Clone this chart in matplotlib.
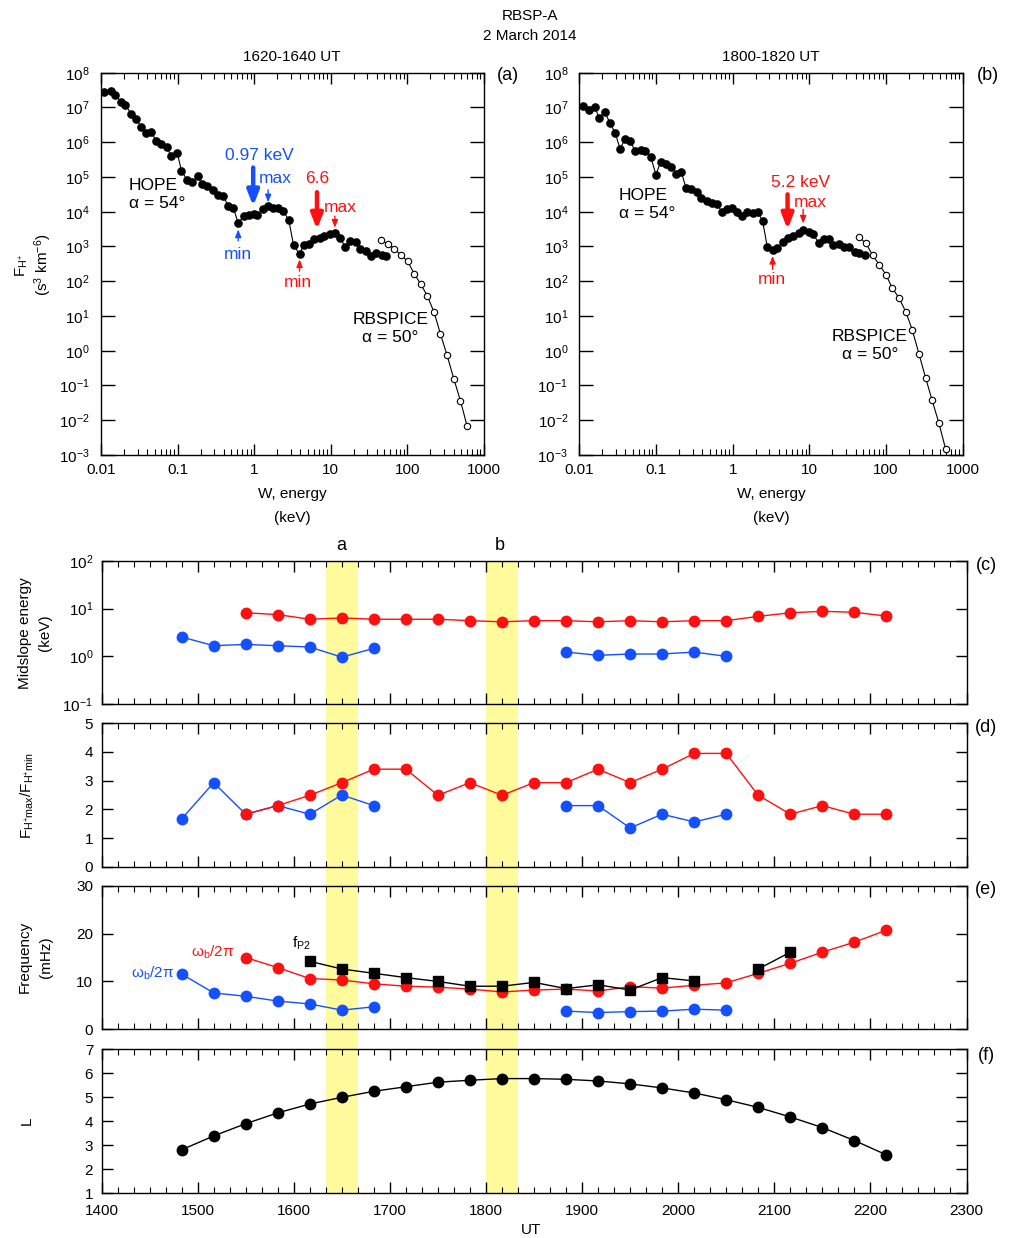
import numpy as np
import matplotlib
matplotlib.use("Agg")
import matplotlib.pyplot as plt
from matplotlib.ticker import (FixedLocator, FixedFormatter, LogLocator, NullFormatter,
                               NullLocator, LogFormatterMathtext, MultipleLocator)

plt.rcParams['font.family'] = ['Liberation Sans', 'DejaVu Sans']
plt.rcParams['mathtext.default'] = 'regular'
plt.rcParams['axes.linewidth'] = 1.0

nan = np.nan

# ---------------- Panel (a): 1620-1640 UT ----------------
hope_a_E = [0.0109, 0.0134, 0.0154, 0.0181, 0.0208, 0.0249, 0.0287, 0.0337, 0.0388, 0.0455,
            0.0524, 0.0615, 0.0723, 0.083, 0.0993, 0.112, 0.134, 0.155, 0.182, 0.209,
            0.245, 0.288, 0.338, 0.397, 0.457, 0.536, 0.618, 0.725, 0.851, 0.98,
            1.10, 1.29, 1.52, 1.75, 2.05, 2.41, 2.83, 3.26, 3.91, 4.41,
            5.19, 6.09, 7.14, 8.22, 9.65, 11.3, 13.3, 15.3, 18.0, 21.1,
            24.3, 29.1, 33.5, 39.3, 46.1, 53.1]
hope_a_F = [2.75e7, 3.05e7, 2.3e7, 1.48e7, 1.19e7, 6.4e6, 4.7e6, 2.65e6, 1.9e6, 1.96e6,
            1.1e6, 8.9e5, 7.1e5, 3.9e5, 4.9e5, 1.52e5, 8.0e4, 7.0e4, 1.05e5, 6.3e4,
            5.4e4, 4.1e4, 3.1e4, 2.8e4, 1.45e4, 1.3e4, 4.6e3, 7.5e3, 7.8e3, 8.5e3,
            8.2e3, 1.19e4, 1.45e4, 1.27e4, 1.3e4, 1.04e4, 5.7e3, 1.1e3, 610, 1.1e3,
            1.18e3, 1.6e3, 1.8e3, 2.0e3, 2.24e3, 2.5e3, 1.75e3, 990, 1.48e3, 1.35e3,
            870, 740, 535, 670, 560, 535]
rbspice_a_E = [45.3, 55.3, 67.6, 82.7, 101, 123, 149, 182, 223, 270, 330, 403, 493, 603]
rbspice_a_F = [1.5e3, 1.2e3, 830, 570, 370, 162, 83, 38, 12.8, 3.05, 0.73, 0.157, 0.036, 0.0067]

# ---------------- Panel (b): 1800-1820 UT ----------------
hope_b_E = [0.0113, 0.0135, 0.0159, 0.0182, 0.0214, 0.0251, 0.0294, 0.034, 0.0398, 0.0458,
            0.0537, 0.0632, 0.0726, 0.0853, 0.1, 0.115, 0.135, 0.158, 0.182, 0.214,
            0.246, 0.288, 0.34, 0.39, 0.458, 0.537, 0.618, 0.724, 0.835, 0.98,
            1.15, 1.32, 1.55, 1.82, 2.14, 2.46, 2.83, 3.32, 3.82, 4.49,
            5.26, 6.17, 7.25, 8.32, 9.79, 11.2, 13.2, 15.5, 17.8, 20.5,
            24.1, 28.2, 33.1, 39.0, 44.8, 52.6]
hope_b_F = [1.13e7, 8.5e6, 1.04e7, 4.9e6, 7.6e6, 3.55e6, 1.84e6, 6.5e5, 1.26e6, 1.05e6,
            5.7e5, 5.8e5, 5.7e5, 3.77e5, 1.17e5, 2.7e5, 2.4e5, 2.0e5, 1.23e5, 1.4e5,
            4.9e4, 4.6e4, 3.65e4, 2.5e4, 2.0e4, 1.76e4, 1.7e4, 1.0e4, 1.16e4, 1.3e4,
            9.8e3, 7.5e3, 1.0e4, 9.1e3, 9.5e3, 5.4e3, 970, 780, 890, 1.35e3,
            1.8e3, 2.0e3, 2.5e3, 2.97e3, 2.67e3, 2.34e3, 1.24e3, 1.68e3, 1.68e3, 1.1e3,
            1.21e3, 970, 970, 715, 640, 560]
rbspice_b_E = [44, 54.7, 66.8, 81.5, 99.7, 120, 149, 182, 220, 269, 328, 400, 490, 598]
rbspice_b_F = [1.87e3, 1.24e3, 560, 300, 155, 65, 32, 12.8, 3.98, 0.81, 0.167, 0.037, 0.0082, 0.0015]

# ---------------- Time series (c)-(f) ----------------
ut = [1483.3, 1516.7, 1550, 1583.3, 1616.7, 1650, 1683.3, 1716.7, 1750, 1783.3, 1816.7, 1850,
      1883.3, 1916.7, 1950, 1983.3, 2016.7, 2050, 2083.3, 2116.7, 2150, 2183.3, 2216.7]
mid_blue = [2.55, 1.67, 1.78, 1.67, 1.57, 0.96, 1.47, nan, nan, nan, nan, nan,
            1.23, 1.05, 1.12, 1.12, 1.23, 1.0, nan, nan, nan, nan, nan]
mid_red = [nan, nan, 8.2, 7.5, 6.0, 6.4, 6.0, 6.0, 6.0, 5.6, 5.3, 5.6,
           5.6, 5.3, 5.6, 5.3, 5.6, 5.6, 6.9, 8.2, 8.8, 8.4, 7.0]
ratio_blue = [1.66, 2.93, 1.83, 2.13, 1.83, 2.5, 2.13, nan, nan, nan, nan, nan,
              2.13, 2.13, 1.35, 1.83, 1.56, 1.83, nan, nan, nan, nan, nan]
ratio_red = [nan, nan, 1.83, 2.13, 2.49, 2.93, 3.4, 3.4, 2.49, 2.93, 2.49, 2.93,
             2.93, 3.4, 2.93, 3.4, 3.95, 3.95, 2.49, 1.83, 2.13, 1.83, 1.83]
freq_blue = [11.55, 7.6, 6.9, 5.9, 5.3, 4.0, 4.7, nan, nan, nan, nan, nan,
             3.8, 3.5, 3.7, 3.8, 4.2, 4.0, nan, nan, nan, nan, nan]
freq_red = [nan, nan, 15.0, 12.9, 10.6, 10.3, 9.5, 9.0, 8.8, 8.4, 7.8, 8.2,
            8.4, 8.0, 8.9, 8.6, 9.2, 9.7, 11.7, 13.8, 16.1, 18.2, 20.7]
freq_fp2 = [nan, nan, nan, nan, 14.2, 12.6, 11.7, 10.8, 10.0, 9.0, 9.0, 9.8,
            8.5, 9.3, 8.2, 10.8, 10.1, nan, 12.6, 16.1, nan, nan, nan]
L_shell = [2.81, 3.39, 3.9, 4.35, 4.72, 5.0, 5.25, 5.44, 5.63, 5.71, 5.78, 5.78,
           5.75, 5.68, 5.56, 5.39, 5.18, 4.9, 4.58, 4.18, 3.74, 3.2, 2.6]
interval_a = (1633.3, 1666.7)
interval_b = (1800.0, 1833.3)

RED = '#ff1010'
BLUE = '#1450ff'
YELLOW = '#fffa9c'

W, H = 1014, 1238
fig = plt.figure(figsize=(W / 100, H / 100), dpi=100)


def ft(x, y, s, **kw):
    kw.setdefault('ha', 'center')
    kw.setdefault('va', 'center')
    return fig.text(x / W, 1 - y / H, s, **kw)


def rect(l, t, r, b):
    return [l / W, 1 - b / H, (r - l) / W, (b - t) / H]


FS = 11

# ---------------- spectra ----------------
def spectrum_axes(pos, E, F, E2, F2):
    ax = fig.add_axes(pos)
    ax.set_xscale('log')
    ax.set_yscale('log')
    ax.set_xlim(0.01, 1000)
    ax.set_ylim(1e-3, 1e8)
    ax.plot(E, F, '-', color='k', lw=0.8, marker='o', ms=5.2, mfc='k', mec='k')
    ax.plot(E2, F2, '-', color='k', lw=0.8, marker='o', ms=4.6, mfc='white', mec='k', mew=0.8)
    ax.xaxis.set_major_locator(FixedLocator([0.01, 0.1, 1, 10, 100, 1000]))
    ax.xaxis.set_major_formatter(FixedFormatter(['0.01', '0.1', '1', '10', '100', '1000']))
    ax.xaxis.set_minor_locator(LogLocator(base=10, subs=np.arange(2, 10), numticks=20))
    ax.xaxis.set_minor_formatter(NullFormatter())
    ax.yaxis.set_major_locator(FixedLocator([10.0 ** k for k in range(-3, 9)]))
    ax.yaxis.set_major_formatter(LogFormatterMathtext())
    ax.yaxis.set_minor_locator(NullLocator())
    ax.tick_params(which='both', direction='in', top=True, right=True, labelsize=FS)
    ax.tick_params(which='major', length=8, width=1)
    ax.tick_params(which='minor', length=4, width=0.8)
    ax.tick_params(axis='y', which='major', length=10, pad=8)
    ax.tick_params(axis='x', which='major', pad=6)
    return ax


axa = spectrum_axes(rect(101, 72.7, 484, 455), hope_a_E, hope_a_F, rbspice_a_E, rbspice_a_F)
axb = spectrum_axes(rect(579.3, 72.7, 962.7, 455), hope_b_E, hope_b_F, rbspice_b_E, rbspice_b_F)


def big_arrow(ax, x, y0, y1, color):
    ax.annotate('', xy=(x, y1), xytext=(x, y0),
                arrowprops=dict(arrowstyle='-|>,head_length=0.9,head_width=0.35',
                                lw=3.2, color=color, shrinkA=0, shrinkB=0))


def small_arrow(ax, x, y0, y1, color):
    ax.annotate('', xy=(x, y1), xytext=(x, y0),
                arrowprops=dict(arrowstyle='-|>,head_length=0.45,head_width=0.18',
                                lw=1.0, color=color, shrinkA=0, shrinkB=0))


TS = 12.5
# panel a annotations
axa.text(0.0232, 10 ** 4.49, 'HOPE\n\u03b1 = 54\u00b0', fontsize=TS, ha='left', va='center',
         linespacing=1.25)
axa.text(60, 10 ** 0.64, 'RBSPICE\n\u03b1 = 50\u00b0', fontsize=TS, ha='center', va='center',
         linespacing=1.25)
axa.text(1.16, 10 ** 5.61, '0.97 keV', color=BLUE, fontsize=TS, ha='center', va='center')
big_arrow(axa, 0.97, 10 ** 5.27, 10 ** 4.16, BLUE)
axa.text(1.9, 10 ** 4.95, 'max', color=BLUE, fontsize=TS, ha='center', va='center')
small_arrow(axa, 1.52, 10 ** 4.63, 10 ** 4.27, BLUE)
axa.text(0.618, 10 ** 2.78, 'min', color=BLUE, fontsize=TS, ha='center', va='center')
small_arrow(axa, 0.618, 10 ** 3.16, 10 ** 3.49, BLUE)
axa.text(6.6, 10 ** 4.95, '6.6', color=RED, fontsize=TS, ha='center', va='center')
big_arrow(axa, 6.6, 10 ** 4.56, 10 ** 3.49, RED)
axa.text(13.3, 10 ** 4.115, 'max', color=RED, fontsize=TS, ha='center', va='center')
small_arrow(axa, 11.3, 10 ** 3.874, 10 ** 3.54, RED)
axa.text(3.76, 10 ** 1.97, 'min', color=RED, fontsize=TS, ha='center', va='center')
small_arrow(axa, 3.91, 10 ** 2.29, 10 ** 2.63, RED)

# panel b annotations
axb.text(0.033, 10 ** 4.21, 'HOPE\n\u03b1 = 54\u00b0', fontsize=TS, ha='left', va='center',
         linespacing=1.25)
axb.text(61.7, 10 ** 0.14, 'RBSPICE\n\u03b1 = 50\u00b0', fontsize=TS, ha='center', va='center',
         linespacing=1.25)
axb.text(7.7, 10 ** 4.85, '5.2 keV', color=RED, fontsize=TS, ha='center', va='center')
big_arrow(axb, 5.2, 10 ** 4.50, 10 ** 3.49, RED)
axb.text(10.4, 10 ** 4.26, 'max', color=RED, fontsize=TS, ha='center', va='center')
small_arrow(axb, 8.3, 10 ** 4.07, 10 ** 3.66, RED)
axb.text(3.22, 10 ** 2.06, 'min', color=RED, fontsize=TS, ha='center', va='center')
small_arrow(axb, 3.32, 10 ** 2.34, 10 ** 2.73, RED)

# texts around spectra
ft(530, 16, 'RBSP-A', fontsize=FS)
ft(530, 36, '2 March 2014', fontsize=FS)
ft(292, 57, '1620-1640 UT', fontsize=FS)
ft(771, 57, '1800-1820 UT', fontsize=FS)
ft(508, 76, '(a)', fontsize=13)
ft(988, 76, '(b)', fontsize=13)
for xc in (292, 771):
    ft(xc, 494, 'W, energy', fontsize=FS)
    ft(xc, 518, '(keV)', fontsize=FS)
ft(22, 265, r'F$_{H^{+}}$', fontsize=FS, rotation=90)
ft(43, 265, r'(s$^{3}$ km$^{-6}$)', fontsize=FS, rotation=90)

# ---------------- time series ----------------
L_PX, R_PX = 101.5, 966.5
pan = {
    'c': (561, 704),
    'd': (723.3, 866.7),
    'e': (885.7, 1029.3),
    'f': (1049.3, 1193.3),
}

# background shading layer spanning c..f
axbg = fig.add_axes(rect(L_PX, pan['c'][0], R_PX, pan['f'][1]), zorder=0)
axbg.set_xlim(1400, 2300)
axbg.set_ylim(0, 1)
axbg.axvspan(*interval_a, color=YELLOW, lw=0)
axbg.axvspan(*interval_b, color=YELLOW, lw=0)
axbg.axis('off')
ft(341, 545, 'a', fontsize=13)
ft(500, 545, 'b', fontsize=13)


def ts_axes(key, labels=False):
    t, b = pan[key]
    ax = fig.add_axes(rect(L_PX, t, R_PX, b), zorder=2)
    ax.set_facecolor('none')
    ax.set_xlim(1400, 2300)
    ax.xaxis.set_major_locator(MultipleLocator(100))
    ax.xaxis.set_minor_locator(MultipleLocator(100 / 6))
    ax.tick_params(which='both', direction='in', top=True, right=True, labelsize=FS,
                   labelbottom=labels)
    ax.tick_params(which='major', length=8, width=1)
    ax.tick_params(which='minor', length=4, width=0.8)
    ax.tick_params(axis='x', which='major', pad=8)
    ax.tick_params(axis='y', which='major', pad=6)
    return ax


MS = 7.5
axc = ts_axes('c')
axc.set_yscale('log')
axc.set_ylim(0.1, 100)
axc.yaxis.set_major_locator(FixedLocator([0.1, 1, 10, 100]))
axc.yaxis.set_major_formatter(LogFormatterMathtext())
axc.yaxis.set_minor_locator(NullLocator())
axc.plot(ut, mid_red, '-o', color=RED, lw=1.0, ms=MS)
axc.plot(ut, mid_blue, '-o', color=BLUE, lw=1.0, ms=MS)

axd = ts_axes('d')
axd.set_ylim(0, 5)
axd.yaxis.set_major_locator(MultipleLocator(1))
axd.plot(ut, ratio_blue, '-o', color=BLUE, lw=1.0, ms=MS)
axd.plot(ut, ratio_red, '-o', color=RED, lw=1.0, ms=MS)

axe = ts_axes('e')
axe.set_ylim(0, 30)
axe.yaxis.set_major_locator(MultipleLocator(10))
axe.plot(ut, freq_blue, '-o', color=BLUE, lw=1.0, ms=MS)
axe.plot(ut, freq_red, '-o', color=RED, lw=1.0, ms=MS)
axe.plot(ut, freq_fp2, '-s', color='k', lw=1.0, ms=7)
axe.text(1475, 11.8, r'$\omega_b$/2$\pi$', color=BLUE, fontsize=FS, ha='right', va='center')
axe.text(1538, 16.0, r'$\omega_b$/2$\pi$', color=RED, fontsize=FS, ha='right', va='center')
axe.text(1608, 18.0, r'f$_{P2}$', color='k', fontsize=FS, ha='center', va='center')

axf = ts_axes('f', labels=True)
axf.set_ylim(1, 7)
axf.yaxis.set_major_locator(MultipleLocator(1))
axf.plot(ut, L_shell, '-o', color='k', lw=1.0, ms=MS)

ft(986, 566, '(c)', fontsize=13)
ft(986, 728, '(d)', fontsize=13)
ft(986, 890, '(e)', fontsize=13)
ft(986, 1055, '(f)', fontsize=13)
ft(25, 633, 'Midslope energy', fontsize=FS, rotation=90)
ft(45, 633, '(keV)', fontsize=FS, rotation=90)
ft(27, 795, r'F$_{H^{+}max}$/F$_{H^{+}min}$', fontsize=FS, rotation=90)
ft(25, 957, 'Frequency', fontsize=FS, rotation=90)
ft(46, 957, '(mHz)', fontsize=FS, rotation=90)
ft(27, 1121, 'L', fontsize=FS, rotation=90)
ft(531, 1230, 'UT', fontsize=FS)

fig.savefig('out.png', dpi=100)
